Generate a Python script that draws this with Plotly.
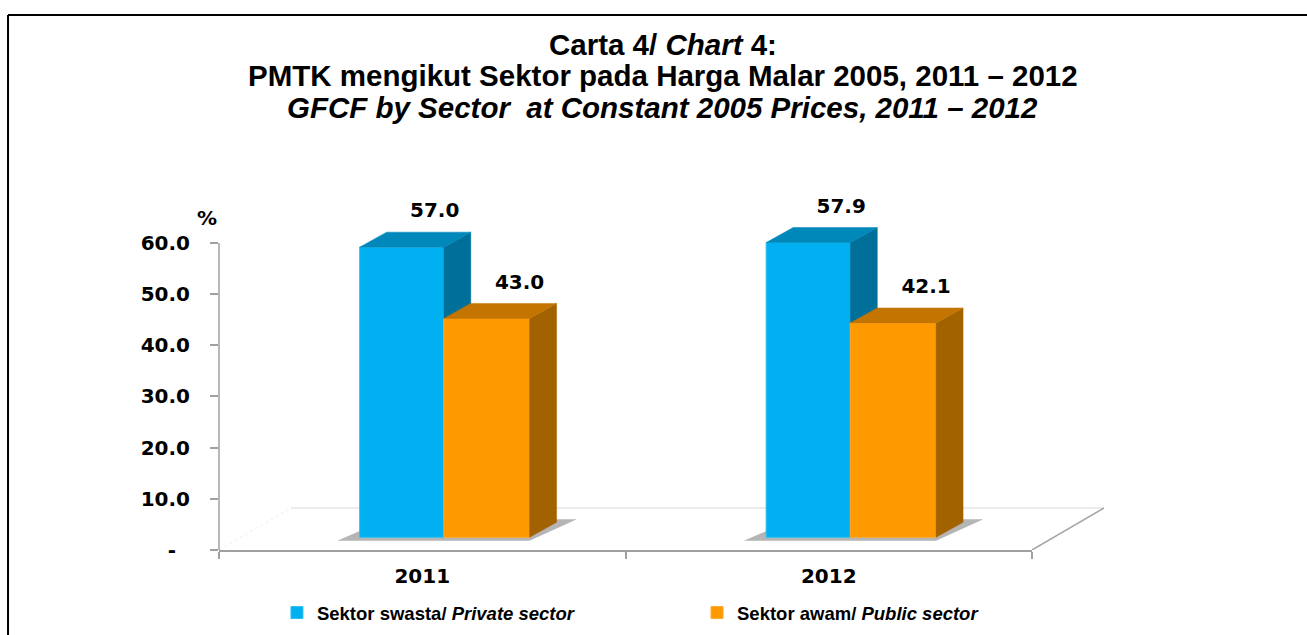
import plotly.graph_objects as go

# ---------------- data ----------------
years = ["2011", "2012"]
private_sector = [57.0, 57.9]
public_sector = [43.0, 42.1]
series_names = ["<b>Sektor swasta/ <i>Private sector</i></b>",
                "<b>Sektor awam/ <i>Public sector</i></b>"]
y_tick_vals = [0, 10, 20, 30, 40, 50, 60]
y_tick_text = ["-\u00a0\u00a0", "10.0", "20.0", "30.0", "40.0", "50.0", "60.0"]

# ---------------- style / geometry ----------------
BLUE_FRONT, BLUE_SIDE, BLUE_TOP = "#00B0F0", "#00709A", "#0088BA"
ORG_FRONT, ORG_SIDE, ORG_TOP = "#FF9900", "#A36200", "#C47400"
BLUE_OFF, BLUE_W = -0.154, 0.207
ORG_OFF, ORG_W = 0.053, 0.211
DX, DY = 0.0664, 2.95            # 3-D depth offset (x units, bar-axis units)
BAR_RANGE = [-2.495, 70.196]      # hidden axes used by the bars
AXIS_RANGE = [0, 72.31]           # visible percentage axis
FLOOR_DX, FLOOR_DY = 0.177, 8.21  # floor depth (x units, visible-axis units)
LABEL_DX, LABEL_DY = 0.081, 3.9

xpos = list(range(len(years)))


def faces(values, off, w):
    sx, sy, tx, ty = [], [], [], []
    for i, v in zip(xpos, values):
        x0 = i + off
        x1 = x0 + w
        sx += [x1, x1 + DX, x1 + DX, x1, x1, None]
        sy += [0, DY, v + DY, v, 0, None]
        tx += [x0, x0 + DX, x1 + DX, x1, x0, None]
        ty += [v, v + DY, v + DY, v, v, None]
    return sx, sy, tx, ty


fig = go.Figure()

# front faces (real bars)
fig.add_trace(go.Bar(x=xpos, y=private_sector, name=series_names[0], offset=BLUE_OFF, width=BLUE_W,
                     marker=dict(color=BLUE_FRONT, line=dict(color="#2CC0F4", width=1)),
                     cliponaxis=False, xaxis="x", yaxis="y", hoverinfo="skip", legend="legend"))
fig.add_trace(go.Bar(x=xpos, y=public_sector, name=series_names[1], offset=ORG_OFF, width=ORG_W,
                     marker=dict(color=ORG_FRONT, line=dict(color="#FFAA2A", width=1)),
                     cliponaxis=False, xaxis="x", yaxis="y2", hoverinfo="skip", legend="legend2"))

# side and top faces
for vals, off, w, side_c, top_c, ax in [(private_sector, BLUE_OFF, BLUE_W, BLUE_SIDE, BLUE_TOP, "y"),
                                         (public_sector, ORG_OFF, ORG_W, ORG_SIDE, ORG_TOP, "y2")]:
    sx, sy, tx, ty = faces(vals, off, w)
    fig.add_trace(go.Scatter(x=sx, y=sy, mode="lines", fill="toself", fillcolor=side_c,
                             line=dict(width=0.5, color=side_c), showlegend=False,
                             hoverinfo="skip", xaxis="x", yaxis=ax))
    fig.add_trace(go.Scatter(x=tx, y=ty, mode="lines", fill="toself", fillcolor=top_c,
                             line=dict(width=0.5, color=top_c), showlegend=False,
                             hoverinfo="skip", xaxis="x", yaxis=ax))

# data labels
lab_x, lab_y, lab_t = [], [], []
for vals, off, w in [(private_sector, BLUE_OFF, BLUE_W), (public_sector, ORG_OFF, ORG_W)]:
    for i, v in zip(xpos, vals):
        lab_x.append(i + off + w / 2 + LABEL_DX)
        lab_y.append(v + DY + LABEL_DY)
        lab_t.append(f"{v:.1f}")
fig.add_trace(go.Scatter(x=lab_x, y=lab_y, text=lab_t, mode="text", textposition="middle center",
                         textfont=dict(family="DejaVu Sans", size=20, color="black", weight="bold"),
                         cliponaxis=False, showlegend=False, hoverinfo="skip", xaxis="x", yaxis="y2"))

# placeholder trace so the visible axis subplot exists
fig.add_trace(go.Scatter(x=[None], y=[None], showlegend=False, hoverinfo="skip", xaxis="x", yaxis="y3"))

shapes = []
# shadows below bars
for i in xpos:
    x0 = i + BLUE_OFF
    x1 = i + ORG_OFF + ORG_W
    path = (f"M {x0 - 0.055},{-0.7} L {x1},{-0.7} L {x1 + DX + 0.05},{DY + 0.6} "
            f"L {x0 + DX},{DY + 0.6} Z")
    shapes.append(dict(type="path", path=path, xref="x", yref="y", layer="below",
                       fillcolor="rgba(90,90,90,0.45)", line=dict(width=0)))
# floor (paper x, visible-axis y)
fx = FLOOR_DX / 2
shapes.append(dict(type="line", xref="paper", yref="y3", x0=fx, x1=1 + fx, y0=FLOOR_DY, y1=FLOOR_DY,
                   line=dict(color="#D9D9D9", width=1), layer="below"))
shapes.append(dict(type="line", xref="paper", yref="y3", x0=1, x1=1 + fx, y0=0, y1=FLOOR_DY,
                   line=dict(color="#A6A6A6", width=1.5), layer="below"))
shapes.append(dict(type="line", xref="paper", yref="y3", x0=0, x1=fx, y0=0, y1=FLOOR_DY,
                   line=dict(color="#EEEEEE", width=1, dash="dot"), layer="below"))
# visible y axis line (0 .. 60)
shapes.append(dict(type="line", xref="paper", yref="y3", x0=0, x1=0, y0=y_tick_vals[0], y1=y_tick_vals[-1],
                   line=dict(color="#A0A0A0", width=1.5)))
# outer frame
shapes.append(dict(type="line", xref="paper", yref="paper", x0=-0.2595, x1=1.35, y0=1.4459, y1=1.4459,
                   line=dict(color="black", width=2)))
shapes.append(dict(type="line", xref="paper", yref="paper", x0=-0.2595, x1=-0.2595, y0=1.4459, y1=-0.25,
                   line=dict(color="black", width=2)))

TITLE_FONT = dict(family="Liberation Sans, Arial", size=29.5, color="black")
annotations = [
    dict(text="<b>Carta 4/ <i>Chart</i> 4:</b>", x=0.5461, y=1.3649),
    dict(text="<b>PMTK mengikut Sektor pada Harga Malar 2005, 2011 \u2013 2012</b>", x=0.5461, y=1.2811),
    dict(text="<b><i>GFCF by Sector  at Constant 2005 Prices, 2011 \u2013 2012</i></b>", x=0.5461, y=1.1946),
]
annotations = [dict(a, xref="paper", yref="paper", xanchor="center", yanchor="middle",
                    showarrow=False, font=TITLE_FONT) for a in annotations]
annotations.append(dict(text="<b>%</b>", xref="paper", yref="paper", x=-0.0148, y=0.8973,
                        xanchor="center", yanchor="middle", showarrow=False,
                        font=dict(family="DejaVu Sans", size=20, color="black")))

LEGEND_FONT = dict(family="Liberation Sans, Arial", size=18.5, color="black")
fig.update_layout(
    width=1307, height=635,
    margin=dict(l=219, r=275, t=180, b=85),
    paper_bgcolor="white", plot_bgcolor="white",
    barmode="group",
    showlegend=True,
    legend=dict(orientation="h", xref="container", yref="container", x=0.2119, y=0.0346,
                xanchor="left", yanchor="middle", font=LEGEND_FONT, bgcolor="rgba(0,0,0,0)"),
    legend2=dict(orientation="h", xref="container", yref="container", x=0.5333, y=0.0346,
                 xanchor="left", yanchor="middle", font=LEGEND_FONT, bgcolor="rgba(0,0,0,0)"),
    xaxis=dict(range=[-0.5, 1.5], tickvals=xpos, ticktext=[f"<b>{y}</b>" for y in years], ticks="",
               tickfont=dict(family="DejaVu Sans", size=20, color="black"),
               showline=True, linecolor="#A0A0A0", linewidth=1.5, showgrid=False, zeroline=False,
               ticklabelstandoff=7, fixedrange=True, automargin=False,
               minor=dict(tickvals=[-0.5, 0.5, 1.5], ticks="outside", ticklen=7,
                          tickcolor="#A0A0A0", tickwidth=1.5, showgrid=False)),
    yaxis=dict(range=BAR_RANGE, visible=False, fixedrange=True, automargin=False),
    yaxis2=dict(range=BAR_RANGE, overlaying="y", visible=False, fixedrange=True, automargin=False),
    yaxis3=dict(range=AXIS_RANGE, overlaying="y", side="left", tickvals=y_tick_vals,
                ticktext=[f"<b>{t}</b>" for t in y_tick_text], ticks="outside", ticklen=8,
                tickcolor="#A0A0A0", tickwidth=1.5, showline=False, showgrid=False, zeroline=False,
                tickfont=dict(family="DejaVu Sans", size=20, color="black"),
                ticklabelstandoff=16, fixedrange=True, automargin=False),
    shapes=shapes,
    annotations=annotations,
)

fig.write_html("out.html", config={"displayModeBar": False},
               post_script="document.body.style.margin='0';")
